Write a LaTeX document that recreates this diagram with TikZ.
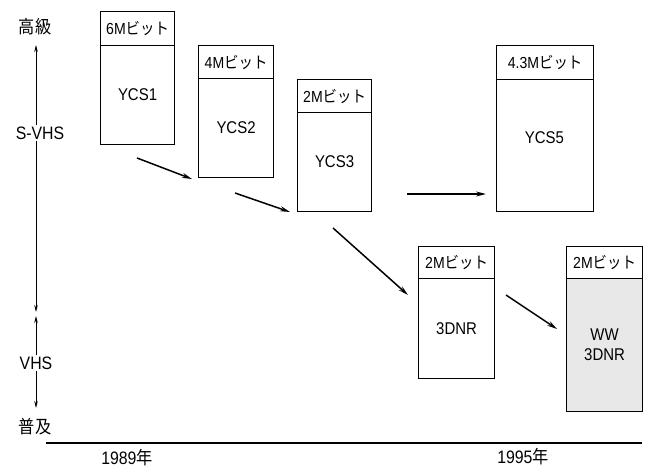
\documentclass[tikz,border=0pt]{standalone}
\usepackage{fontspec}
\setmainfont[FakeStretch=0.88]{Liberation Sans}
\newfontfamily\cjk[FakeStretch=0.9]{Noto Sans CJK JP}
\usetikzlibrary{arrows.meta}
\begin{document}
\begin{tikzpicture}[x=1pt,y=-1pt,
  boxline/.style={draw, line width=1.1pt},
  hdr/.style={boxline, anchor=north west, inner sep=0pt, font=\fontsize{16}{18}\selectfont},
  body/.style={boxline, anchor=north west, inner sep=0pt, align=center, font=\fontsize{17}{20}\selectfont},
  flow/.style={line width=1.5pt, -{Stealth[length=10pt,width=5pt]}},
  axis/.style={line width=0.8pt, -{Stealth[length=7pt,width=3.5pt]}},
  lbl/.style={font=\fontsize{18}{20}\selectfont, inner sep=1pt},
  blbl/.style={font=\fontsize{17}{20}\selectfont, inner sep=1pt},
]
\useasboundingbox (0,0) rectangle (650,470);

% boxes
\node[hdr, minimum width=74pt, minimum height=34pt] (h1) at (100,11) {6M{\cjk ビット}};
\node[body, minimum width=74pt, minimum height=99pt] (b1) at (100,45) {YCS1};

\node[hdr, minimum width=75pt, minimum height=33pt] (h2) at (198,45) {4M{\cjk ビット}};
\node[body, minimum width=75pt, minimum height=99pt] (b2) at (198,78) {YCS2};

\node[hdr, minimum width=74pt, minimum height=33pt] (h3) at (297,79) {2M{\cjk ビット}};
\node[body, minimum width=74pt, minimum height=99pt] (b3) at (297,112) {YCS3};

\node[hdr, minimum width=97pt, minimum height=34pt] (h5) at (496,45) {4.3M{\cjk ビット}};
\node[body, minimum width=97pt, minimum height=132pt] (b5) at (496,79) {};
\node[blbl] (t5) at (544.5,138) {YCS5};

\node[hdr, minimum width=76pt, minimum height=32pt] (hd) at (418,246) {2M{\cjk ビット}};
\node[body, minimum width=76pt, minimum height=100pt] (bd) at (418,278) {3DNR};

\node[hdr, minimum width=76pt, minimum height=32pt] (hw) at (566,246) {2M{\cjk ビット}};
\node[body, fill=black!9, minimum width=76pt, minimum height=133pt] (bw) at (566,278) {WW\\3DNR};

% flow arrows
\coordinate (a1s) at (137,158); \coordinate (a1e) at (192,179);
\coordinate (a2s) at (235,193); \coordinate (a2e) at (290,212);
\coordinate (a3s) at (407,194); \coordinate (a3e) at (486,194);
\coordinate (a4s) at (333,228); \coordinate (a4e) at (408,295);
\coordinate (a5s) at (506,295); \coordinate (a5e) at (557,329);
\draw[flow] (a1s) -- (a1e);
\draw[flow] (a2s) -- (a2e);
\draw[flow] (a3s) -- (a3e);
\draw[flow] (a4s) -- (a4e);
\draw[flow] (a5s) -- (a5e);

% vertical axis
\coordinate (ax) at (36,0);
\node[lbl] (hi) at (35,27) {\cjk 高級};
\node[lbl] (svhs) at (40,133) {S-VHS};
\node[lbl] (vhs) at (36,363) {VHS};
\node[lbl] (lo) at (35,427) {\cjk 普及};
\coordinate (hitip) at (36,45);
\coordinate (svtip) at (36,312);
\coordinate (vhtip) at (36,316);
\coordinate (lotip) at (36,408);
\draw[axis] (svhs.north -| ax) -- (hitip);
\draw[axis] (svhs.south -| ax) -- (svtip);
\draw[axis] (vhs.north -| ax) -- (vhtip);
\draw[axis] (vhs.south -| ax) -- (lotip);

% time axis
\coordinate (tl) at (46,443);
\coordinate (tr) at (642,443);
\draw[line width=1.2pt] (tl) -- (tr);
\node[lbl] (y89) at (127,458) {1989{\cjk 年}};
\node[lbl] (y95) at (523,457) {1995{\cjk 年}};
\end{tikzpicture}
\end{document}
